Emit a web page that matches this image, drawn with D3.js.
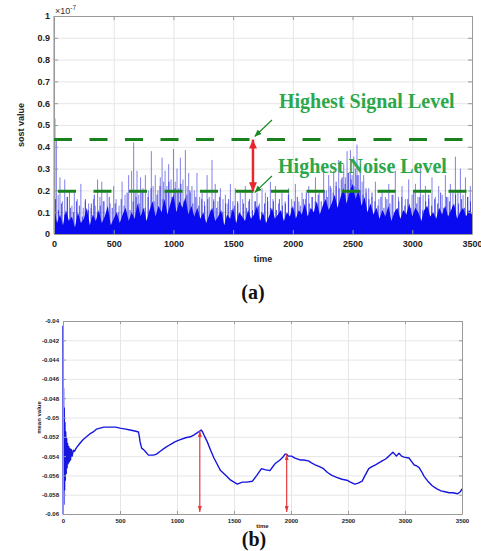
<!DOCTYPE html>
<html>
<head>
<meta charset="utf-8">
<script src="https://cdn.jsdelivr.net/npm/d3@7"></script>
<style>
  body { margin: 0; background: #fff; }
</style>
</head>
<body>
<script>
// ---- data (a): sost value, in units of 1e-7 ----
const sostBodyStep = 25;
const sostBody = [
  0.12, 0.05, 0.09, 0.04, 0.11, 0.06, 0.08, 0.03, 0.10, 0.05, 0.07, 0.12, 0.04, 0.09, 0.06, 0.11, 0.05, 0.08, 0.13, 0.04,
  0.07, 0.10, 0.05, 0.09, 0.12, 0.06, 0.10, 0.07, 0.14,
  0.08, 0.12, 0.06, 0.11, 0.15, 0.08, 0.13, 0.10, 0.16, 0.09, 0.14, 0.18, 0.10, 0.15, 0.12, 0.17, 0.09, 0.13, 0.08, 0.12, 0.07,
  0.10, 0.05, 0.09, 0.12, 0.06, 0.08, 0.11, 0.04, 0.09, 0.07, 0.12, 0.05, 0.10, 0.08, 0.06, 0.11, 0.07, 0.09, 0.13, 0.06,
  0.10, 0.05, 0.08, 0.12, 0.07, 0.09, 0.11, 0.06, 0.10, 0.08, 0.13, 0.07, 0.11, 0.09, 0.14, 0.08, 0.12, 0.10, 0.15,
  0.09, 0.13, 0.16, 0.11, 0.14, 0.18, 0.12, 0.17, 0.21, 0.14, 0.19, 0.23, 0.16, 0.20, 0.13, 0.17, 0.10, 0.14, 0.09, 0.12,
  0.07, 0.11, 0.08, 0.13, 0.06, 0.10, 0.12, 0.07, 0.11, 0.09, 0.14, 0.08, 0.12, 0.10, 0.06, 0.11, 0.13, 0.08, 0.10, 0.07,
  0.12, 0.09, 0.13, 0.08, 0.11, 0.14, 0.07, 0.10, 0.12, 0.08, 0.11, 0.09
];
// medium spikes, halfway between the body samples (t = 12.5 + 25k)
const sostMid = [
  0.16, 0.11, 0.14, 0.09, 0.17, 0.12, 0.10, 0.15, 0.13, 0.08, 0.16, 0.11, 0.14, 0.18, 0.10, 0.13, 0.15, 0.09, 0.17, 0.12,
  0.14, 0.10, 0.16, 0.13, 0.19, 0.11, 0.15, 0.17,
  0.14, 0.19, 0.12, 0.17, 0.21, 0.15, 0.18, 0.22, 0.16, 0.20, 0.24, 0.17, 0.21, 0.19, 0.23, 0.15, 0.18, 0.20, 0.14, 0.17,
  0.13, 0.16,
  0.13, 0.16, 0.11, 0.15, 0.12, 0.17, 0.10, 0.14, 0.16, 0.11, 0.13, 0.15, 0.09, 0.14, 0.12, 0.16, 0.11, 0.15, 0.13, 0.10,
  0.14, 0.17, 0.12, 0.15, 0.11, 0.16, 0.13, 0.14, 0.18, 0.12, 0.15, 0.17, 0.13, 0.16, 0.19, 0.14, 0.17, 0.15,
  0.18, 0.15, 0.20, 0.17, 0.22, 0.19, 0.24, 0.21, 0.26, 0.23, 0.28, 0.25, 0.22, 0.27, 0.20, 0.18, 0.21, 0.16, 0.19, 0.15,
  0.13, 0.17, 0.12, 0.16, 0.14, 0.18, 0.11, 0.15, 0.17, 0.13, 0.16, 0.12, 0.19, 0.14, 0.17, 0.11, 0.15, 0.18, 0.13, 0.16,
  0.14, 0.19, 0.12, 0.17, 0.15, 0.13, 0.18, 0.14, 0.16, 0.12, 0.17, 0.15
];
// [time, value] of the taller spikes
const sostSpikes = [
  [0,1.0],[8,0.53],[20,0.43],[35,0.18],[50,0.26],[70,0.15],[90,0.25],[110,0.17],[130,0.20],[150,0.13],
  [170,0.19],[195,0.16],[225,0.23],[245,0.12],[262,0.15],[290,0.14],[310,0.12],[330,0.16],[345,0.13],[365,0.25],
  [385,0.17],[400,0.24],[420,0.15],[445,0.19],[470,0.14],[500,0.22],[520,0.16],[545,0.13],[570,0.24],[595,0.18],
  [625,0.27],[650,0.29],[667,0.42],[680,0.20],[695,0.29],[710,0.18],[725,0.26],[745,0.21],[765,0.27],[790,0.20],
  [815,0.38],[830,0.22],[848,0.27],[870,0.20],[890,0.26],[905,0.35],[918,0.24],[930,0.29],[945,0.22],[960,0.32],
  [980,0.25],[1000,0.39],[1015,0.24],[1030,0.30],[1045,0.21],[1058,0.35],[1080,0.25],[1100,0.385],[1115,0.22],[1128,0.28],
  [1142,0.19],[1155,0.22],[1175,0.20],[1197,0.28],[1220,0.17],[1240,0.19],[1260,0.15],[1282,0.27],[1300,0.17],[1323,0.34],
  [1337,0.16],[1350,0.23],[1372,0.15],[1393,0.21],[1415,0.16],[1435,0.18],[1455,0.14],[1477,0.23],[1498,0.15],[1518,0.21],
  [1540,0.14],[1560,0.19],[1580,0.16],[1602,0.22],[1630,0.15],[1658,0.20],[1680,0.15],[1700,0.19],[1720,0.14],[1742,0.21],
  [1770,0.19],[1790,0.15],[1812,0.24],[1833,0.16],[1854,0.22],[1880,0.14],[1909,0.19],[1935,0.15],[1965,0.21],[1990,0.16],
  [2021,0.23],[2050,0.15],[2077,0.19],[2105,0.16],[2133,0.22],[2160,0.17],[2189,0.26],[2220,0.19],[2258,0.31],[2280,0.20],
  [2300,0.27],[2320,0.21],[2342,0.29],[2362,0.22],[2384,0.34],[2405,0.25],[2426,0.32],[2440,0.26],[2454,0.38],[2468,0.28],
  [2482,0.385],[2496,0.27],[2510,0.355],[2524,0.30],[2537,0.41],[2551,0.27],[2565,0.32],[2580,0.24],[2593,0.27],[2614,0.19],
  [2635,0.21],[2662,0.17],[2691,0.24],[2720,0.16],[2747,0.20],[2775,0.17],[2803,0.23],[2830,0.18],[2858,0.29],[2885,0.17],
  [2914,0.22],[2942,0.16],[2970,0.25],[2998,0.18],[3026,0.23],[3048,0.17],[3068,0.30],[3090,0.18],[3110,0.22],[3138,0.16],
  [3165,0.26],[3193,0.17],[3221,0.22],[3250,0.18],[3277,0.27],[3298,0.17],[3319,0.23],[3340,0.19],[3361,0.355],[3382,0.20],
  [3403,0.30],[3425,0.18],[3445,0.26],[3466,0.17],[3486,0.22]
];
const signalLevel = 0.433;
const noiseLevel = 0.196;

const timeTicks = [0, 500, 1000, 1500, 2000, 2500, 3000, 3500];
const timeLabels = ["0", "500", "1000", "1500", "2000", "2500", "3000", "3500"];
const sostTicks = [0, 0.1, 0.2, 0.3, 0.4, 0.5, 0.6, 0.7, 0.8, 0.9, 1];
const sostLabels = ["0", "0.1", "0.2", "0.3", "0.4", "0.5", "0.6", "0.7", "0.8", "0.9", "1"];

// ---- data (b): mean value ----
const meanSeries = [
  [0,-0.0405],[2,-0.0600],[5,-0.0470],[8,-0.0590],[11,-0.0490],[14,-0.0575],[17,-0.0505],[20,-0.0565],[24,-0.0515],[28,-0.0558],
  [32,-0.0522],[36,-0.0552],[40,-0.0527],[45,-0.0548],[50,-0.0530],[55,-0.0546],[60,-0.0532],[66,-0.0544],[72,-0.0533],[80,-0.0540],
  [90,-0.0534],[100,-0.0535],[120,-0.0531],[147,-0.0527],[175,-0.0523],[206,-0.0520],[235,-0.0517],[265,-0.0515],[295,-0.0512],[324,-0.0511],
  [360,-0.0510],[412,-0.0510],[460,-0.0510],[500,-0.0511],[550,-0.0512],[588,-0.0513],[630,-0.0514],[662,-0.0515],[670,-0.0520],[676,-0.0525],
  [684,-0.0529],[691,-0.0532],[705,-0.0533],[720,-0.0535],[750,-0.0539],[794,-0.0539],[820,-0.0538],[853,-0.0535],[900,-0.0531],[941,-0.0528],
  [985,-0.0525],[1029,-0.0523],[1075,-0.0521],[1118,-0.0520],[1150,-0.0518],[1176,-0.0516],[1200,-0.0514],[1212,-0.0513],[1225,-0.0515],[1240,-0.0519],
  [1265,-0.0525],[1295,-0.0534],[1324,-0.0542],[1355,-0.0549],[1382,-0.0555],[1420,-0.0559],[1471,-0.0565],[1500,-0.0567],[1529,-0.0569],[1550,-0.0568],
  [1574,-0.0567],[1610,-0.0567],[1662,-0.0566],[1700,-0.0560],[1741,-0.0553],[1770,-0.0554],[1815,-0.0555],[1840,-0.0551],[1859,-0.0548],[1903,-0.0544],
  [1930,-0.0541],[1947,-0.0538],[1962,-0.0538],[1976,-0.0540],[2005,-0.0540],[2035,-0.0542],[2079,-0.0544],[2110,-0.0544],[2153,-0.0545],[2180,-0.0547],
  [2212,-0.0549],[2250,-0.0551],[2285,-0.0553],[2320,-0.0557],[2359,-0.0560],[2400,-0.0562],[2447,-0.0564],[2490,-0.0565],[2521,-0.0567],[2559,-0.0569],
  [2590,-0.0568],[2624,-0.0566],[2650,-0.0560],[2682,-0.0553],[2710,-0.0551],[2741,-0.0549],[2770,-0.0547],[2800,-0.0545],[2830,-0.0543],[2859,-0.0540],
  [2894,-0.0536],[2910,-0.0538],[2924,-0.0540],[2947,-0.0537],[2970,-0.0540],[2991,-0.0541],[3035,-0.0542],[3060,-0.0546],[3079,-0.0549],[3100,-0.0550],
  [3124,-0.0552],[3145,-0.0556],[3168,-0.0561],[3200,-0.0566],[3241,-0.0571],[3280,-0.0574],[3315,-0.0576],[3350,-0.0577],[3388,-0.0578],[3420,-0.0578],
  [3462,-0.0579],[3485,-0.0577],[3500,-0.0574]
];
const meanTicks = [-0.06, -0.058, -0.056, -0.054, -0.052, -0.05, -0.048, -0.046, -0.044, -0.042, -0.04];
const meanLabels = ["-0.06", "-0.058", "-0.056", "-0.054", "-0.052", "-0.05", "-0.048", "-0.046", "-0.044", "-0.042", "-0.04"];
// arrows drawn from the curve down to the axis
const meanMarks = [[1200, -0.0514], [1962, -0.0538]];

const svg = d3.select("body").append("svg")
  .attr("width", 481)
  .attr("height", 551)
  .style("font-family", "'Liberation Sans', Arial, sans-serif");

const defs = svg.append("defs");
function marker(id, color, w, l) {
  defs.append("marker")
    .attr("id", id)
    .attr("markerUnits", "userSpaceOnUse")
    .attr("viewBox", `0 ${-w / 2} ${l} ${w}`)
    .attr("refX", l).attr("refY", 0)
    .attr("markerWidth", l).attr("markerHeight", w)
    .attr("orient", "auto-start-reverse")
    .append("path")
    .attr("d", `M0,${-w / 2}L${l},0L0,${w / 2}Z`)
    .attr("fill", color);
}
marker("redBig", "#e8262b", 8, 9);
marker("redSmall", "#e23a3a", 4, 6);
marker("greenHead", "#1c8a24", 6, 7);

// MATLAB-like box: grid, inward ticks on four sides, labels bottom/left
function drawBox(g, x, y, o) {
  const [x0, x1] = x.range();
  const [y0, y1] = y.range();

  g.append("g").attr("transform", `translate(0,${y0})`)
    .call(d3.axisBottom(x).tickValues(o.xTicks).tickSize(-(y0 - y1)).tickFormat(""))
    .call(s => s.select(".domain").remove())
    .call(s => s.selectAll("line").attr("stroke", "#e6e6e6"));
  g.append("g").attr("transform", `translate(${x0},0)`)
    .call(d3.axisLeft(y).tickValues(o.yTicks).tickSize(-(x1 - x0)).tickFormat(""))
    .call(s => s.select(".domain").remove())
    .call(s => s.selectAll("line").attr("stroke", "#e6e6e6"));

  const axes = [
    g.append("g").attr("transform", `translate(0,${y0})`)
      .call(d3.axisBottom(x).tickValues(o.xTicks).tickSizeInner(-o.tick).tickSizeOuter(0)
        .tickPadding(o.xPad).tickFormat((d, i) => o.xLabels[i])),
    g.append("g").attr("transform", `translate(0,${y1})`)
      .call(d3.axisTop(x).tickValues(o.xTicks).tickSizeInner(-o.tick).tickSizeOuter(0).tickFormat("")),
    g.append("g").attr("transform", `translate(${x0},0)`)
      .call(d3.axisLeft(y).tickValues(o.yTicks).tickSizeInner(-o.tick).tickSizeOuter(0)
        .tickPadding(o.yPad).tickFormat((d, i) => o.yLabels[i])),
    g.append("g").attr("transform", `translate(${x1},0)`)
      .call(d3.axisRight(y).tickValues(o.yTicks).tickSizeInner(-o.tick).tickSizeOuter(0).tickFormat(""))
  ];
  axes.forEach(a => {
    a.select(".domain").attr("stroke", "#9a9a9a");
    a.selectAll(".tick line").attr("stroke", "#9a9a9a");
    a.selectAll("text")
      .attr("fill", "#222")
      .style("font-size", o.font + "px")
      .style("font-weight", "bold")
      .style("font-family", "'Liberation Sans', Arial, sans-serif");
  });
  return axes;
}

// ---------------- panel (a) ----------------
const xa = d3.scaleLinear().domain([0, 3500]).range([54, 472]);
const ya = d3.scaleLinear().domain([0, 1]).range([234, 16]);
const ga = svg.append("g");
const gridA = ga.append("g");
const dataA = ga.append("g");

const boxA = drawBox(gridA, xa, ya, {
  xTicks: timeTicks, xLabels: timeLabels, yTicks: sostTicks, yLabels: sostLabels,
  tick: 4, xPad: 7, yPad: 4, font: 9
});

dataA.selectAll("line.spike").data(sostSpikes).join("line")
  .attr("class", "spike")
  .attr("x1", d => xa(d[0])).attr("x2", d => xa(d[0]))
  .attr("y1", ya(0)).attr("y2", d => ya(d[1]))
  .attr("stroke", "#2b2bdc")
  .attr("stroke-opacity", 0.6)
  .attr("stroke-width", 1);

dataA.selectAll("line.mid").data(sostMid).join("line")
  .attr("class", "mid")
  .attr("x1", (d, i) => xa(12.5 + i * sostBodyStep)).attr("x2", (d, i) => xa(12.5 + i * sostBodyStep))
  .attr("y1", ya(0)).attr("y2", d => ya(d))
  .attr("stroke", "#1d1de6")
  .attr("stroke-opacity", 0.75)
  .attr("stroke-width", 1);

dataA.append("path")
  .datum(sostBody)
  .attr("d", d3.area()
    .x((d, i) => xa(i * sostBodyStep))
    .y0(ya(0))
    .y1(d => ya(d)))
  .attr("fill", "#0a0af0");

boxA.forEach(a => ga.node().appendChild(a.node()));

// dashed level lines
[[signalLevel, 0], [noiseLevel, -4]].forEach(([v, off]) => {
  ga.append("line")
    .attr("x1", xa(0)).attr("x2", xa(3500))
    .attr("y1", ya(v)).attr("y2", ya(v))
    .attr("stroke", "#18801c")
    .attr("stroke-width", 3)
    .attr("stroke-dasharray", "18,17.5")
    .attr("stroke-dashoffset", off);
});

// red double arrow between the two levels
ga.append("line")
  .attr("x1", xa(1666)).attr("x2", xa(1666))
  .attr("y1", ya(signalLevel)).attr("y2", ya(noiseLevel))
  .attr("stroke", "#e8262b")
  .attr("stroke-width", 2.5)
  .attr("marker-start", "url(#redBig)")
  .attr("marker-end", "url(#redBig)");

// green labels and pointers
const notes = [
  { text: "Highest Signal Level", tx: 1884, ty: 0.578, from: [1825, 0.523], to: [1680, 0.447] },
  { text: "Highest Noise Level", tx: 1876, ty: 0.280, from: [1825, 0.266], to: [1680, 0.190] }
];
notes.forEach(n => {
  ga.append("line")
    .attr("x1", xa(n.from[0])).attr("y1", ya(n.from[1]))
    .attr("x2", xa(n.to[0])).attr("y2", ya(n.to[1]))
    .attr("stroke", "#1c8a24")
    .attr("stroke-width", 1.2)
    .attr("marker-end", "url(#greenHead)");
  ga.append("text")
    .attr("x", xa(n.tx)).attr("y", ya(n.ty))
    .attr("fill", "#2ca84a")
    .style("font-family", "'Liberation Serif', 'Times New Roman', serif")
    .style("font-weight", "bold")
    .style("font-size", "20px")
    .text(n.text);
});

// axis titles and exponent
ga.append("text")
  .attr("x", (xa.range()[0] + xa.range()[1]) / 2).attr("y", 262)
  .attr("text-anchor", "middle")
  .style("font-size", "9px").style("font-weight", "bold").attr("fill", "#222")
  .text("time");
ga.append("text")
  .attr("transform", `translate(24,${(ya.range()[0] + ya.range()[1]) / 2}) rotate(-90)`)
  .attr("text-anchor", "middle")
  .style("font-size", "9px").style("font-weight", "bold").attr("fill", "#222")
  .text("sost value");
const expo = ga.append("text")
  .attr("x", 55).attr("y", 14)
  .style("font-size", "9px").attr("fill", "#333");
expo.append("tspan").text("\u00d710");
expo.append("tspan").attr("dy", -4).style("font-size", "6.5px").text("-7");

svg.append("text")
  .attr("x", 253).attr("y", 299)
  .attr("text-anchor", "middle")
  .style("font-family", "'Liberation Serif', 'Times New Roman', serif")
  .style("font-weight", "bold").style("font-size", "20px")
  .attr("fill", "#111")
  .text("(a)");

// ---------------- panel (b) ----------------
const xb = d3.scaleLinear().domain([0, 3500]).range([63, 462]);
const yb = d3.scaleLinear().domain([-0.06, -0.04]).range([514, 321]);
const gb = svg.append("g");
const gridB = gb.append("g");
const dataB = gb.append("g");

const boxB = drawBox(gridB, xb, yb, {
  xTicks: timeTicks, xLabels: timeLabels, yTicks: meanTicks, yLabels: meanLabels,
  tick: 3, xPad: 4.5, yPad: 4, font: 6
});

dataB.append("path")
  .datum(meanSeries)
  .attr("d", d3.line().x(d => xb(d[0])).y(d => yb(d[1])))
  .attr("fill", "none")
  .attr("stroke", "#1616dc")
  .attr("stroke-width", 1.4)
  .attr("stroke-linejoin", "round");

boxB.forEach(a => gb.node().appendChild(a.node()));

dataB.selectAll("line.mark").data(meanMarks).join("line")
  .attr("class", "mark")
  .attr("x1", d => xb(d[0])).attr("x2", d => xb(d[0]))
  .attr("y1", d => yb(d[1])).attr("y2", yb(-0.06) - 2)
  .attr("stroke", "#e23a3a")
  .attr("stroke-width", 1.2)
  .attr("marker-start", "url(#redSmall)")
  .attr("marker-end", "url(#redSmall)");

gb.append("text")
  .attr("x", (xb.range()[0] + xb.range()[1]) / 2).attr("y", 528)
  .attr("text-anchor", "middle")
  .style("font-size", "6px").style("font-weight", "bold").attr("fill", "#222")
  .text("time");
gb.append("text")
  .attr("transform", `translate(41,${(yb.range()[0] + yb.range()[1]) / 2}) rotate(-90)`)
  .attr("text-anchor", "middle")
  .style("font-size", "6px").style("font-weight", "bold").attr("fill", "#222")
  .text("mean value");

svg.append("text")
  .attr("x", 254).attr("y", 546)
  .attr("text-anchor", "middle")
  .style("font-family", "'Liberation Serif', 'Times New Roman', serif")
  .style("font-weight", "bold").style("font-size", "20px")
  .attr("fill", "#111")
  .text("(b)");
</script>
</body>
</html>
